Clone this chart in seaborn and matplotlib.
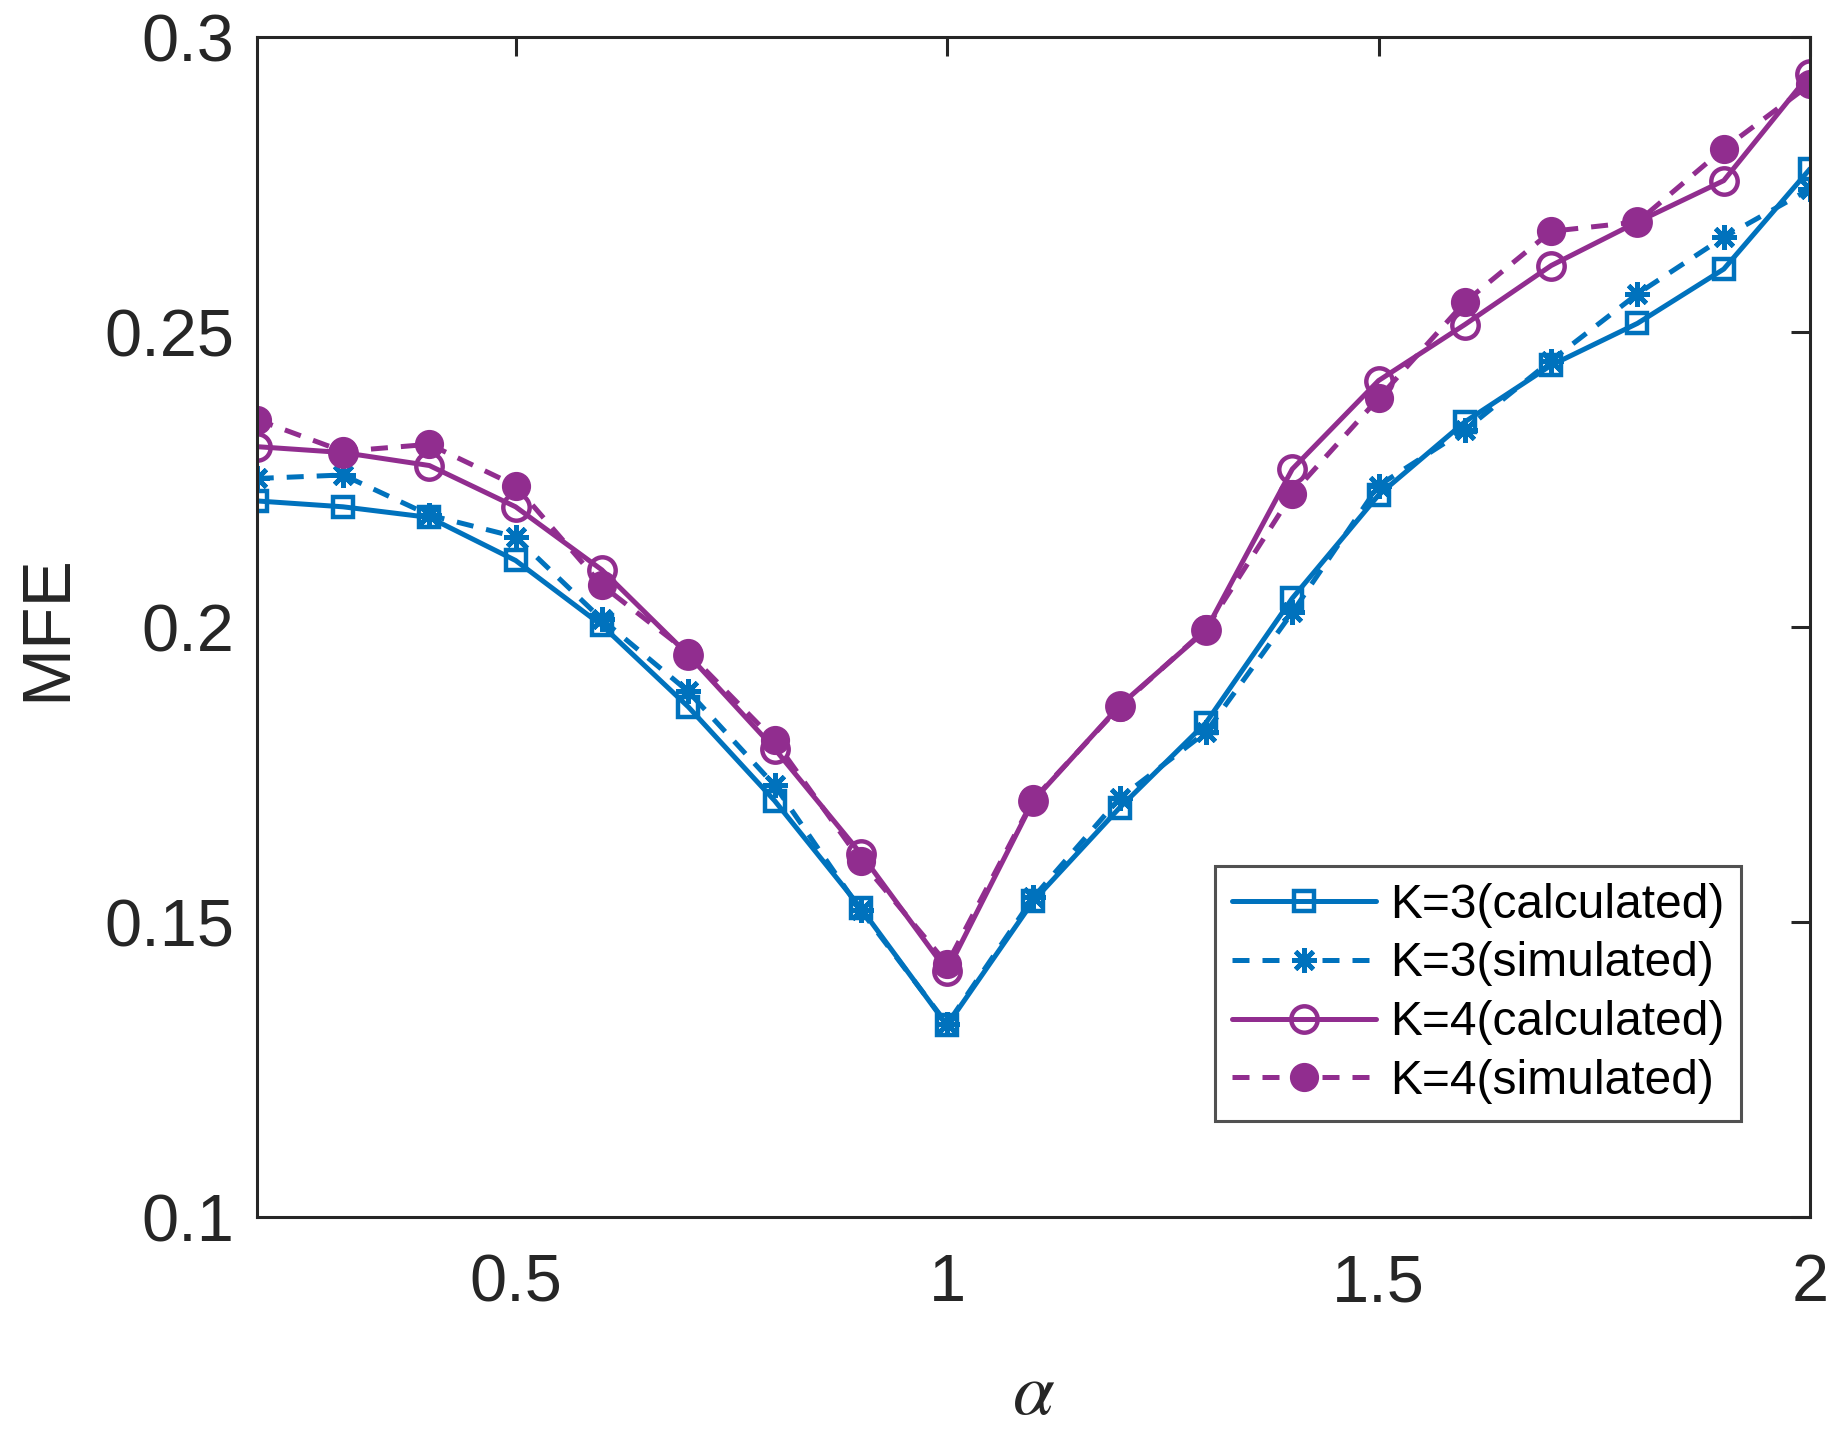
import numpy as np
import pandas as pd
import matplotlib
matplotlib.use("Agg")
import matplotlib.pyplot as plt
import seaborn as sns

alpha = [0.2, 0.3, 0.4, 0.5, 0.6, 0.7, 0.8, 0.9, 1.0, 1.1,
         1.2, 1.3, 1.4, 1.5, 1.6, 1.7, 1.8, 1.9, 2.0]

k3_calc = [0.2214, 0.2204, 0.2186, 0.2113, 0.2003, 0.1865, 0.1706, 0.1524, 0.1325, 0.1536,
           0.1694, 0.1838, 0.2049, 0.2224, 0.2348, 0.2444, 0.2515, 0.2607, 0.2777]
k3_sim = [0.2252, 0.2258, 0.2190, 0.2153, 0.2013, 0.1891, 0.1732, 0.1520, 0.1327, 0.1542,
          0.1710, 0.1822, 0.2025, 0.2240, 0.2334, 0.2452, 0.2565, 0.2661, 0.2743]
k4_calc = [0.2306, 0.2296, 0.2274, 0.2204, 0.2097, 0.1953, 0.1794, 0.1616, 0.1417, 0.1706,
           0.1867, 0.1995, 0.2268, 0.2418, 0.2513, 0.2613, 0.2687, 0.2757, 0.2938]
k4_sim = [0.2352, 0.2298, 0.2310, 0.2240, 0.2071, 0.1957, 0.1808, 0.1604, 0.1429, 0.1708,
          0.1865, 0.1997, 0.2226, 0.2388, 0.2551, 0.2671, 0.2687, 0.2811, 0.2920]

labels = ["K=3(calculated)", "K=3(simulated)", "K=4(calculated)", "K=4(simulated)"]
yticks = [0.1, 0.15, 0.2, 0.25, 0.3]
ytick_labels = ["0.1", "0.15", "0.2", "0.25", "0.3"]
xticks = [0.5, 1, 1.5, 2]
xtick_labels = ["0.5", "1", "1.5", "2"]

blue = "#0072BD"
purple = "#912D8F"
ink = "#262626"

sns.set_style("white")
plt.rcParams["font.family"] = ["Liberation Sans", "DejaVu Sans"]
plt.rcParams["mathtext.fontset"] = "stix"

fig = plt.figure(figsize=(18.47, 14.33), dpi=100)
ax = fig.add_axes([0.139, 0.1507, 0.841, 0.8233])

dash = (0, (3.4, 2.6))
styles = [
    dict(color=blue, linestyle="-", marker="s", markersize=14, markerfacecolor="none",
         markeredgewidth=3.2, markeredgecolor=blue),
    dict(color=blue, linestyle=dash, marker=(8, 2, 0), markersize=18,
         markeredgewidth=3.4, markeredgecolor=blue),
    dict(color=purple, linestyle="-", marker="o", markersize=19, markerfacecolor="none",
         markeredgewidth=3.2, markeredgecolor=purple),
    dict(color=purple, linestyle=dash, marker="o", markersize=20, markerfacecolor=purple,
         markeredgewidth=1, markeredgecolor=purple),
]
series = [k3_calc, k3_sim, k4_calc, k4_sim]

for vals, lab, st in zip(series, labels, styles):
    df = pd.DataFrame({"alpha": alpha, "MFE": vals})
    sns.lineplot(data=df, x="alpha", y="MFE", ax=ax, label=lab, **st)

# make sure line/marker widths stick after seaborn's own defaults
for line, st in zip(ax.get_lines(), styles):
    line.set_linewidth(3.6)
    line.set_markeredgewidth(st["markeredgewidth"])
    line.set_linestyle(st["linestyle"])

ax.set_xlim(0.2, 2)
ax.set_ylim(0.1, 0.3)
ax.set_xticks(xticks)
ax.set_xticklabels(xtick_labels)
ax.set_yticks(yticks)
ax.set_yticklabels(ytick_labels)
ax.tick_params(direction="in", length=14, width=2.2, labelsize=48, colors=ink,
               top=True, right=True)
ax.tick_params(axis="x", pad=26)
ax.tick_params(axis="y", pad=16)
for sp in ax.spines.values():
    sp.set_linewidth(2.2)
    sp.set_color(ink)

ax.set_xlabel(r"$\alpha$", fontsize=54, labelpad=32, color=ink)
ax.set_ylabel("MFE", fontsize=50, labelpad=18, color=ink)

leg = ax.legend(loc="lower right", bbox_to_anchor=(0.9556, 0.0814), borderaxespad=0,
                fontsize=34.5, frameon=True, fancybox=False, edgecolor=ink,
                handlelength=3.0, borderpad=0.35, labelspacing=0.29, handletextpad=0.3)
leg.get_frame().set_linewidth(2.2)
for t in leg.get_texts():
    t.set_color("black")

fig.savefig("out.png", dpi=100)
